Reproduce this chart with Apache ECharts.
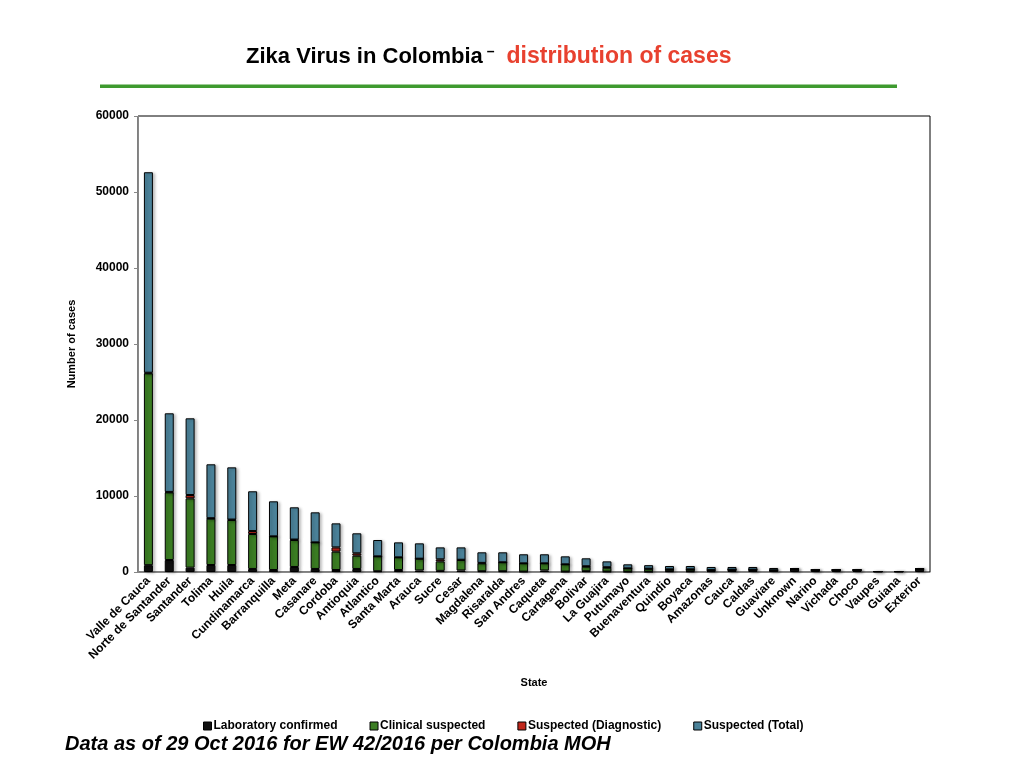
<!DOCTYPE html>
<html>
<head>
<meta charset="utf-8">
<script src="https://cdn.jsdelivr.net/npm/echarts@6/dist/echarts.min.js"></script>
<style>
  html, body { margin: 0; padding: 0; background: #fff; }
  #chart { width: 1024px; height: 768px; }
</style>
</head>
<body>
<div id="chart"></div>
<script>
// states, sorted by total cases
const states = ['Valle de Cauca', 'Norte de Santander', 'Santander', 'Tolima', 'Huila', 'Cundinamarca',
  'Barranquilla', 'Meta', 'Casanare', 'Cordoba', 'Antioquia', 'Atlantico', 'Santa Marta', 'Arauca',
  'Sucre', 'Cesar', 'Magdalena', 'Risaralda', 'San Andres', 'Caqueta', 'Cartagena', 'Bolivar',
  'La Guajira', 'Putumayo', 'Buenaventura', 'Quindio', 'Boyaca', 'Amazonas', 'Cauca', 'Caldas',
  'Guaviare', 'Unknown', 'Narino', 'Vichada', 'Choco', 'Vaupes', 'Guiana', 'Exterior'];

const labConfirmed = [900, 1580, 570, 920, 920, 400, 260, 660, 400, 260, 400, 100, 260, 200,
  150, 200, 100, 100, 50, 200, 50, 100, 50, 30, 30, 100, 80, 100, 250, 250,
  200, 400, 260, 260, 260, 60, 60, 400];

const clinicalSuspected = [25240, 8900, 9120, 6100, 5920, 4600, 4430, 3550, 3500, 2420, 1750, 1960, 1670, 1550,
  1250, 1380, 1040, 1180, 1090, 940, 960, 600, 520, 450, 400, 250, 270, 150, 50, 50,
  30, 0, 0, 0, 0, 0, 0, 0];

const suspectedDiag = [80, 60, 440, 60, 60, 390, 0, 60, 0, 560, 310, 0, 0, 0,
  270, 30, 60, 0, 0, 0, 0, 60, 60, 0, 0, 0, 0, 0, 0, 0,
  0, 0, 0, 0, 0, 0, 0, 0];

const suspectedTotal = [26380, 10340, 10090, 7090, 6870, 5230, 4610, 4240, 3950, 3160, 2630, 2150, 1970, 2020,
  1570, 1630, 1390, 1310, 1190, 1190, 1050, 1040, 770, 530, 470, 440, 440, 410, 360, 360,
  300, 0, 0, 0, 0, 0, 0, 0];

const yTicks = { min: 0, max: 60000, step: 10000 };

const font = 'Arial, "Liberation Sans", Helvetica, sans-serif';

function barSeries(name, data, color) {
  return {
    name: name,
    type: 'bar',
    stack: 'cases',
    data: data,
    barWidth: 9,
    itemStyle: {
      color: color,
      borderColor: '#000',
      borderWidth: 1,
      shadowColor: 'rgba(0,0,0,0.25)',
      shadowBlur: 3,
      shadowOffsetX: 2,
      shadowOffsetY: 1
    }
  };
}

let chart = echarts.init(document.getElementById('chart'));

let option = {
  backgroundColor: '#fff',
  animation: false,
  textStyle: { fontFamily: font },
  title: {
    text: '{a|Zika Virus in Colombia}{d|–}{b|distribution of cases}',
    left: 241,
    top: 40,
    textStyle: {
      rich: {
        a: { fontFamily: font, fontSize: 22, fontWeight: 'bold', color: '#000', padding: [0, 4, 0, 0] },
        d: { fontFamily: font, fontSize: 14, fontWeight: 'bold', color: '#000', verticalAlign: 'top', padding: [0, 12, 8, 0] },
        b: { fontFamily: font, fontSize: 23, fontWeight: 'bold', color: '#e8412f' }
      }
    }
  },
  graphic: [
    {
      type: 'rect',
      shape: { x: 100, y: 84.5, width: 797, height: 3.5 },
      style: { fill: '#3e9a2f' }
    },
    {
      type: 'text',
      left: 65,
      top: 734,
      style: {
        text: 'Data as of 29 Oct 2016 for EW 42/2016 per Colombia MOH',
        font: 'italic bold 20px ' + font,
        fill: '#000'
      }
    }
  ],
  legend: {
    left: 198,
    top: 715,
    icon: 'rect',
    itemWidth: 8,
    itemHeight: 8,
    itemGap: 32,
    selectedMode: false,
    textStyle: { fontFamily: font, fontSize: 12, fontWeight: 'bold', color: '#000', padding: [0, 0, 0, -3] },
    itemStyle: { borderColor: '#000', borderWidth: 1 }
  },
  grid: {
    left: 138,
    right: 94,
    top: 116,
    bottom: 196,
    show: true,
    borderColor: '#000',
    borderWidth: 1
  },
  xAxis: {
    type: 'category',
    data: states,
    name: 'State',
    nameLocation: 'middle',
    nameGap: 105,
    nameTextStyle: { fontFamily: font, fontSize: 11, fontWeight: 'bold', color: '#000' },
    axisLine: { lineStyle: { color: '#888', width: 1 } },
    axisTick: { length: 4, lineStyle: { color: '#888' } },
    axisLabel: {
      interval: 0,
      rotate: 45,
      margin: 7,
      fontFamily: font,
      fontSize: 12,
      fontWeight: 'bold',
      color: '#000'
    }
  },
  yAxis: {
    type: 'value',
    min: yTicks.min,
    max: yTicks.max,
    interval: yTicks.step,
    name: 'Number of cases',
    nameLocation: 'middle',
    nameGap: 61,
    nameTextStyle: { fontFamily: font, fontSize: 11, fontWeight: 'bold', color: '#000' },
    axisLine: { show: true, lineStyle: { color: '#888', width: 1 } },
    axisTick: { show: true, length: 4, lineStyle: { color: '#888' } },
    splitLine: { show: false },
    axisLabel: {
      margin: 9,
      formatter: (v) => String(v),
      fontFamily: font,
      fontSize: 12,
      fontWeight: 'bold',
      color: '#000'
    }
  },
  series: [
    barSeries('Laboratory confirmed', labConfirmed, '#111111'),
    barSeries('Clinical suspected', clinicalSuspected, '#3b7d23'),
    barSeries('Suspected (Diagnostic)', suspectedDiag, '#c0271b'),
    barSeries('Suspected (Total)', suspectedTotal, '#4b8299')
  ]
};

chart.setOption(option);
</script>
</body>
</html>
